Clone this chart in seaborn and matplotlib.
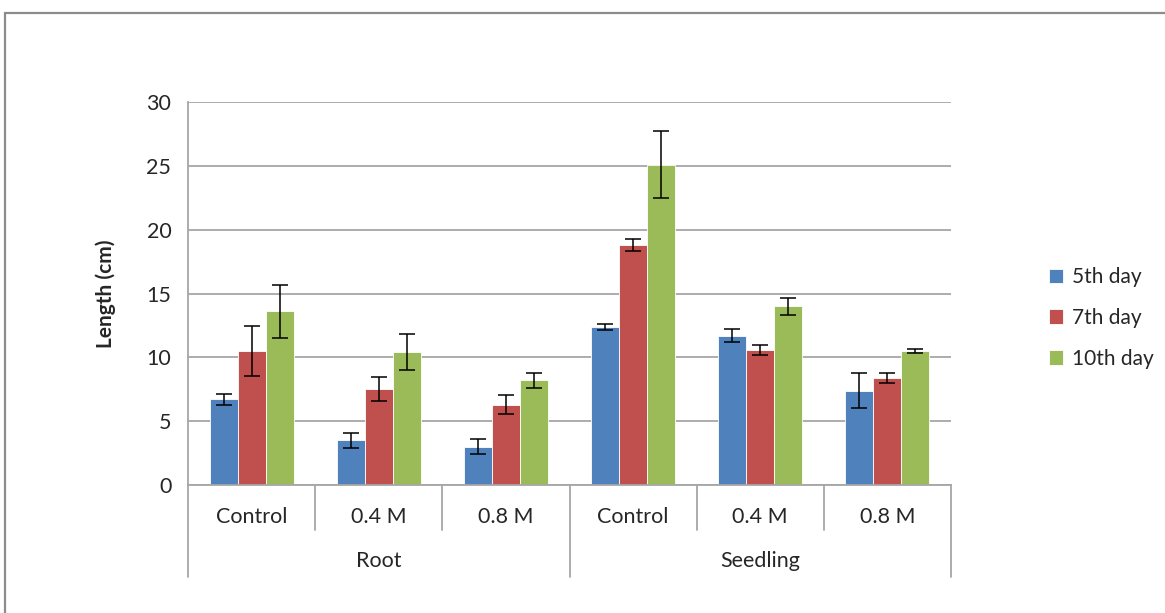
import seaborn as sns
import pandas as pd
import matplotlib.pyplot as plt
from matplotlib.patches import Rectangle

# Data
tissues = ["Root", "Seedling"]
treatments = ["Control", "0.4 M", "0.8 M"]
days = ["5th day", "7th day", "10th day"]

# mean length (cm) for Root Control, Root 0.4 M, Root 0.8 M, Seedling Control, ...
day5 = [6.7, 3.5, 3.0, 12.4, 11.7, 7.4]
day7 = [10.5, 7.5, 6.3, 18.8, 10.6, 8.4]
day10 = [13.6, 10.4, 8.2, 25.1, 14.0, 10.5]

# error bar half-widths
err5 = [0.42, 0.58, 0.57, 0.22, 0.5, 1.35]
err7 = [1.95, 0.94, 0.76, 0.5, 0.4, 0.4]
err10 = [2.05, 1.43, 0.58, 2.6, 0.65, 0.13]

colors = ["#4F81BD", "#C0504D", "#9BBB59"]

# Build long table
conds = [t + "|" + tr for t in tissues for tr in treatments]
rows = []
for day, vals in zip(days, [day5, day7, day10]):
    for c, v in zip(conds, vals):
        rows.append({"cond": c, "day": day, "length": v})
df = pd.DataFrame(rows)

sns.set_style("white")
plt.rcParams["font.family"] = ["Lato", "DejaVu Sans"]

fig = plt.figure(figsize=(11.65, 6.13), dpi=100)
ax = fig.add_axes([188 / 1165, 1 - 485 / 613, (951 - 188) / 1165, (485 - 102) / 613])

sns.barplot(ax=ax, data=df, x="cond", y="length", hue="day", order=conds,
            hue_order=days, palette=colors, width=0.66, errorbar=None,
            edgecolor="white", linewidth=0.6, saturation=1)

# Error bars on top of each bar
for cont, errs in zip(ax.containers, [err5, err7, err10]):
    xs = [p.get_x() + p.get_width() / 2 for p in cont]
    ys = [p.get_height() for p in cont]
    ax.errorbar(xs, ys, yerr=errs, fmt="none", ecolor="black",
                elinewidth=1.1, capsize=5.5, capthick=1.1, zorder=5)

# Axes styling
grid_c = "#a6a6a6"
ax.set_ylim(0, 30)
ax.set_xlim(-0.5, 5.5)
ax.set_yticks(range(0, 31, 5))
ax.yaxis.grid(True, color=grid_c, linewidth=1.3)
ax.set_axisbelow(True)
for s in ["top", "right"]:
    ax.spines[s].set_visible(False)
for s in ["left", "bottom"]:
    ax.spines[s].set_color(grid_c)
    ax.spines[s].set_linewidth(1.3)
ax.tick_params(axis="y", length=6, color=grid_c, width=1.3, labelsize=15.5, pad=6)
ax.set_xticks(range(6))
ax.set_xticklabels(treatments * 2)
ax.tick_params(axis="x", length=0, labelsize=15.5, pad=16)
ax.set_xlabel("")
ax.set_ylabel("Length (cm)", fontsize=15, fontweight="bold", labelpad=22)

# Two-level category separators
trans = ax.get_xaxis_transform()
for x in [0.5, 1.5, 3.5, 4.5]:
    ax.plot([x, x], [0, -0.1175], transform=trans, color=grid_c, lw=1.3, clip_on=False)
for x in [-0.5, 2.5, 5.5]:
    ax.plot([x, x], [0, -0.24], transform=trans, color=grid_c, lw=1.3, clip_on=False)
for i, t in enumerate(tissues):
    ax.text(1 + 3 * i, -0.198, t, transform=trans, ha="center", va="center", fontsize=15.5)

# Legend
handles, labels = ax.get_legend_handles_labels()
ax.legend(handles, labels, loc="center left", bbox_to_anchor=(1030 / 1165, 1 - 318 / 613),
          bbox_transform=fig.transFigure, frameon=False, fontsize=15,
          handlelength=0.7, handleheight=0.7, labelspacing=1.0, handletextpad=0.4)

# Chart area border
fig.add_artist(Rectangle((5 / 1165, -0.5), 2, 0.5 + (1 - 13 / 613), fill=False,
                         edgecolor="#8c8c8c", linewidth=1.6, transform=fig.transFigure))

plt.savefig("out.png", dpi=100)
plt.close(fig)
